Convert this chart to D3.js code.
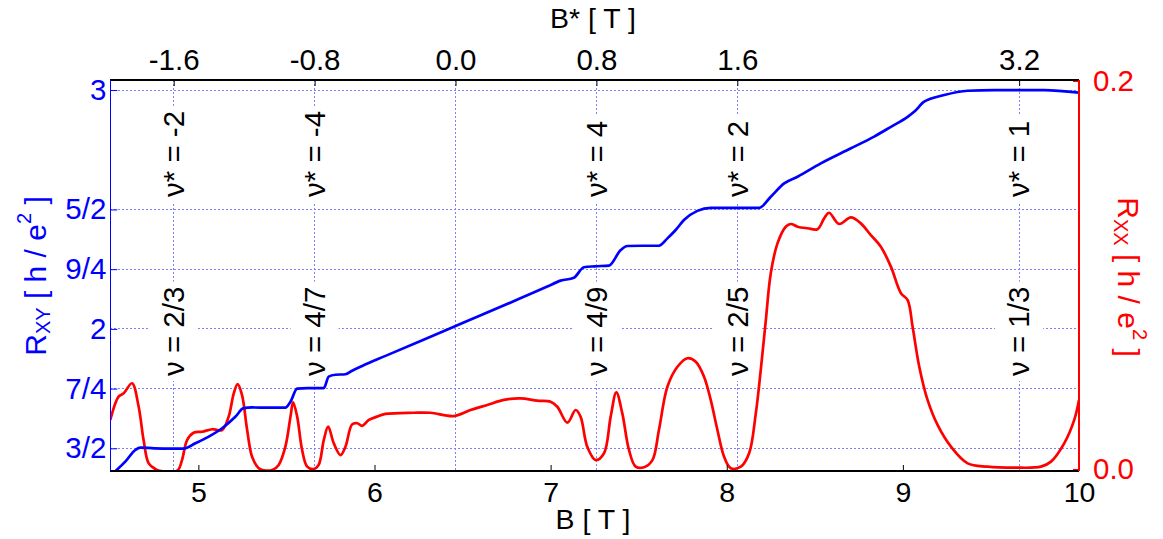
<!DOCTYPE html>
<html>
<head>
<meta charset="utf-8">
<script src="https://cdn.jsdelivr.net/npm/d3@7"></script>
<style>
  html, body { margin: 0; padding: 0; background: #fff; }
  svg { display: block; }
  text { font-family: "Liberation Sans", Arial, Helvetica, sans-serif; white-space: pre; }
</style>
</head>
<body>
<svg id="chart" width="1163" height="539"></svg>
<script>
// Hall resistance R_xy (units of h/e^2) versus field B [T]
const bXY = [4.53, 4.585, 4.642, 4.67, 4.75, 4.85, 4.916, 4.983, 5.059, 5.135, 5.21, 5.257, 5.305, 5.40, 5.494,
  5.523, 5.561, 5.62, 5.712, 5.74, 5.778, 5.835, 5.873, 5.93, 6.0625, 6.451, 6.981, 7.057, 7.132, 7.189,
  7.25, 7.331, 7.398, 7.436, 7.52, 7.615, 7.663, 7.71, 7.757, 7.833, 7.909, 8.05, 8.184, 8.25, 8.326,
  8.402, 8.534, 8.705, 8.837, 8.932, 9.027, 9.064, 9.121, 9.235, 9.368, 9.519, 9.803, 10.0];
const rXY = [1.405, 1.444, 1.493, 1.503, 1.5, 1.499, 1.499, 1.521, 1.549, 1.584, 1.632, 1.668, 1.671, 1.67, 1.67,
  1.695, 1.75, 1.752, 1.752, 1.8, 1.808, 1.81, 1.825, 1.845, 1.887, 2.009, 2.177, 2.202, 2.214, 2.258,
  2.262, 2.265, 2.33, 2.347, 2.348, 2.348, 2.379, 2.414, 2.456, 2.494, 2.507, 2.507, 2.507, 2.553, 2.609,
  2.637, 2.693, 2.756, 2.805, 2.846, 2.888, 2.909, 2.951, 2.979, 2.997, 3.0, 3.0, 2.989];

// Longitudinal resistance R_xx (units of h/e^2) versus field B [T]
const bXX = [4.5, 4.547, 4.576, 4.623, 4.661, 4.689, 4.718, 4.756, 4.773, 4.881, 4.907, 4.936, 4.973, 5.021, 5.078,
  5.135, 5.172, 5.201, 5.223, 5.248, 5.277, 5.305, 5.343, 5.364, 5.42, 5.456, 5.494, 5.523, 5.538, 5.561,
  5.589, 5.618, 5.655, 5.683, 5.712, 5.737, 5.769, 5.807, 5.835, 5.873, 5.902, 5.93, 5.968, 6.015, 6.0625,
  6.223, 6.318, 6.451, 6.545, 6.64, 6.735, 6.83, 6.924, 7.0, 7.038, 7.095, 7.142, 7.17, 7.208, 7.256,
  7.303, 7.341, 7.373, 7.407, 7.445, 7.483, 7.53, 7.578, 7.615, 7.663, 7.72, 7.777, 7.824, 7.871, 7.909,
  7.947, 7.985, 8.023, 8.08, 8.127, 8.165, 8.193, 8.222, 8.25, 8.288, 8.335, 8.364, 8.402, 8.459, 8.515,
  8.553, 8.581, 8.638, 8.705, 8.761, 8.818, 8.875, 8.932, 8.989, 9.027, 9.055, 9.093, 9.14, 9.197, 9.273,
  9.368, 9.481, 9.632, 9.784, 9.841, 9.916, 9.973, 10.0];
const rXX = [0.0253, 0.0373, 0.039, 0.0442, 0.0321, 0.0149, 0.0029, 0.0, -0.0008, -0.0008, 0.0046, 0.0149, 0.0187, 0.0192, 0.0205,
  0.0201, 0.027, 0.039, 0.0438, 0.0381, 0.0201, 0.0063, 0.0004, -0.0005, -0.0005, 0.0021, 0.0115, 0.027, 0.0344, 0.027,
  0.0098, 0.0012, 0.0, 0.0021, 0.0149, 0.0218, 0.0132, 0.0072, 0.0115, 0.023, 0.0236, 0.0222, 0.0253, 0.027, 0.0284,
  0.029, 0.029, 0.0273, 0.0304, 0.033, 0.0356, 0.0364, 0.0352, 0.0347, 0.0321, 0.0239, 0.0304, 0.027, 0.0115, 0.0046,
  0.0081, 0.027, 0.0395, 0.0287, 0.0098, 0.0012, 0.0009, 0.0046, 0.0201, 0.0424, 0.0527, 0.0571, 0.0553, 0.0476, 0.0356,
  0.0201, 0.0063, 0.0004, 0.0012, 0.0081, 0.0287, 0.051, 0.0768, 0.1009, 0.1163, 0.1249, 0.1263, 0.1249, 0.1241, 0.1236,
  0.1292, 0.1321, 0.1263, 0.1297, 0.1266, 0.1206, 0.1146, 0.1043, 0.0906, 0.0871, 0.0734, 0.0527, 0.0356, 0.0227, 0.0115,
  0.0029, 0.0012, 0.0007, 0.0012, 0.0038, 0.0132, 0.0253, 0.0356];

// Axis ticks
const bTicks = [5, 6, 7, 8, 9, 10];
const bStarTicks = [-1.6, -0.8, 0.0, 0.8, 1.6, 3.2];
const bStarOffset = 6.46;          // B* = B - B(nu = 1/2)
const rxyTicks = [1.5, 1.75, 2, 2.25, 2.5, 3];
const rxyTickLabels = ["3/2", "7/4", "2", "9/4", "5/2", "3"];
const rxxTicks = [0, 0.2];

// Filling-factor annotations, placed at the B* grid lines
const labelBStar = [-1.6, -0.8, 0.8, 1.6, 3.2];
const nuStarLabels = ["ν* = -2", "ν* = -4", "ν* = 4", "ν* = 2", "ν* = 1"];
const nuLabels = ["ν = 2/3", "ν = 4/7", "ν = 4/9", "ν = 2/5", "ν = 1/3"];

const svg = d3.select("#chart");
svg.append("rect").attr("width", 1163).attr("height", 539).attr("fill", "#fff");

const L = 110.3, R = 1079, T = 80, B = 471;
const x = d3.scaleLinear().domain([4.5, 10]).range([L, R]);
const xTop = d3.scaleLinear().domain([4.5 - bStarOffset, 10 - bStarOffset]).range([L, R]);
const yL = d3.scaleLinear().domain([1.405, 3.042]).range([B, T]);
const yR = d3.scaleLinear().domain([0, 0.2]).range([469, 81]);

const gridColor = "rgb(128,128,255)";
const grid = svg.append("g").attr("stroke", gridColor).attr("stroke-width", 1)
  .attr("stroke-dasharray", "2,2").attr("shape-rendering", "crispEdges");
grid.selectAll("line.h").data(rxyTicks).join("line").attr("class", "h")
  .attr("x1", L).attr("x2", R).attr("y1", d => yL(d)).attr("y2", d => yL(d));
grid.selectAll("line.v").data(bStarTicks).join("line").attr("class", "v")
  .attr("x1", d => xTop(d)).attr("x2", d => xTop(d)).attr("y1", T).attr("y2", B);

// Annotations with white backing boxes
function annotate(texts, yStart) {
  texts.forEach((t, i) => {
    const g = svg.append("g")
      .attr("transform", `translate(${xTop(labelBStar[i])},${yStart}) rotate(-90)`);
    const rect = g.append("rect").attr("fill", "#fff");
    const txt = g.append("text").attr("x", 0).attr("dy", "0.35em")
      .attr("font-size", 29.5).attr("fill", "#000").text(t);
    const bb = txt.node().getBBox();
    rect.attr("x", bb.x - 5).attr("width", bb.width + 10).attr("y", -24).attr("height", 48);
  });
}
annotate(nuStarLabels, 197);
annotate(nuLabels, 376);

// Curves
const clip = svg.append("defs").append("clipPath").attr("id", "plotclip");
clip.append("rect").attr("x", L).attr("y", T).attr("width", R - L).attr("height", B - T);
const plot = svg.append("g").attr("clip-path", "url(#plotclip)");

const lineXY = d3.line().x((d, i) => x(bXY[i])).y((d, i) => yL(rXY[i])).curve(d3.curveMonotoneX);
const lineXX = d3.line().x((d, i) => x(bXX[i])).y((d, i) => yR(rXX[i])).curve(d3.curveCatmullRom.alpha(0.5));
plot.append("path").attr("d", lineXX(rXX)).attr("fill", "none").attr("stroke", "#ff0000")
  .attr("stroke-width", 2.7).attr("stroke-linejoin", "round");
plot.append("path").attr("d", lineXY(rXY)).attr("fill", "none").attr("stroke", "#0000ff")
  .attr("stroke-width", 2.7).attr("stroke-linejoin", "round");

// Axes
function styleAxis(g, color, size) {
  g.select(".domain").remove();
  g.attr("font-family", null).attr("font-size", null);
  g.selectAll(".tick line").attr("stroke", color);
  g.selectAll(".tick text").attr("fill", color).attr("font-size", size)
    .style("font-family", '"Liberation Sans", Arial, Helvetica, sans-serif');
}
svg.append("g").attr("transform", `translate(0,${B})`)
  .call(d3.axisBottom(x).tickValues(bTicks).tickSize(-6).tickSizeOuter(0).tickPadding(11).tickFormat(d => String(d)))
  .call(g => styleAxis(g, "#000", 28.5));
svg.append("g").attr("transform", `translate(0,${T})`)
  .call(d3.axisTop(xTop).tickValues(bStarTicks).tickSize(-6).tickSizeOuter(0).tickPadding(10).tickFormat(d => d.toFixed(1)))
  .call(g => styleAxis(g, "#000", 29.5));
svg.append("g").attr("transform", `translate(${L},0)`)
  .call(d3.axisLeft(yL).tickValues(rxyTicks).tickSize(-7).tickSizeOuter(0).tickPadding(4).tickFormat((d, i) => rxyTickLabels[i]))
  .call(g => styleAxis(g, "#0000ff", 29.5));
svg.append("g").attr("transform", `translate(${R},0)`)
  .call(d3.axisRight(yR).tickValues(rxxTicks).tickSize(-6).tickSizeOuter(0).tickPadding(14).tickFormat(d => d.toFixed(1)))
  .call(g => styleAxis(g, "#ff0000", 29.5));

// Frame
const frame = svg.append("g").attr("stroke-width", 1.2).attr("shape-rendering", "crispEdges");
frame.append("line").attr("x1", L).attr("x2", R).attr("y1", T).attr("y2", T).attr("stroke", "#000");
frame.append("line").attr("x1", L).attr("x2", R).attr("y1", B).attr("y2", B).attr("stroke", "#000");
frame.append("line").attr("x1", L).attr("x2", L).attr("y1", T).attr("y2", B).attr("stroke", "#0000ff");
frame.append("line").attr("x1", R).attr("x2", R).attr("y1", T).attr("y2", B).attr("stroke", "#ff0000");

// Axis titles
svg.append("text").attr("x", 593).attr("y", 529).attr("text-anchor", "middle")
  .attr("font-size", 28.5).attr("fill", "#000").text("B [ T ]");
svg.append("text").attr("x", 593).attr("y", 28).attr("text-anchor", "middle")
  .attr("font-size", 28.5).attr("fill", "#000").text("B* [ T ]");

function resistanceTitle(sub, color, tx, ty, angle) {
  const t = svg.append("text").attr("transform", `translate(${tx},${ty}) rotate(${angle})`)
    .attr("text-anchor", "middle").attr("font-size", 30).attr("fill", color);
  t.append("tspan").text("R");
  t.append("tspan").attr("font-size", 20).attr("dy", 4).text(sub);
  t.append("tspan").attr("dy", -4).text(" [ h / e");
  t.append("tspan").attr("font-size", 20).attr("dy", -15).text("2");
  t.append("tspan").attr("dy", 15).text(" ]");
}
resistanceTitle("XY", "#0000ff", 46, 276, -90);
resistanceTitle("XX", "#ff0000", 1118, 277, 90);
</script>
</body>
</html>
